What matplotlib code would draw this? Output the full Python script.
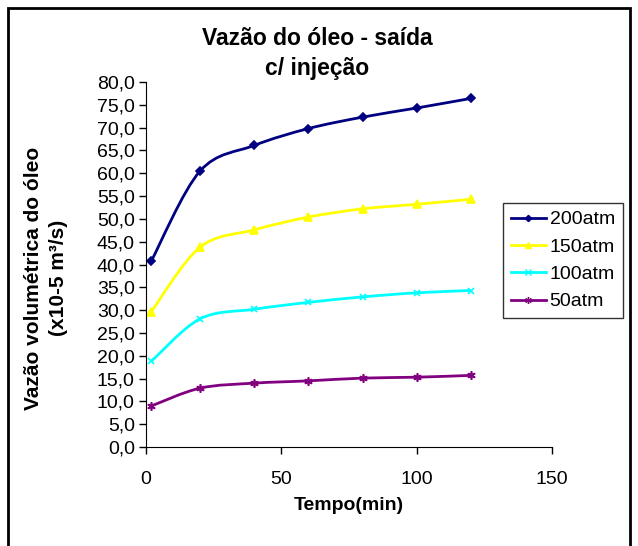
import matplotlib
matplotlib.use("Agg")
import matplotlib.pyplot as plt
from matplotlib.path import Path
from matplotlib.patches import PathPatch, Rectangle
from matplotlib.lines import Line2D
from matplotlib.ticker import FuncFormatter, MultipleLocator

plt.rcParams['font.family'] = ['Liberation Sans', 'DejaVu Sans']

tempo = [2, 20, 40, 60, 80, 100, 120]
p200 = [40.8, 60.5, 66.1, 69.8, 72.3, 74.3, 76.4]
p150 = [29.7, 43.8, 47.6, 50.4, 52.2, 53.2, 54.3]
p100 = [18.8, 28.1, 30.2, 31.7, 32.9, 33.8, 34.3]
p50 = [9.0, 12.9, 14.0, 14.5, 15.1, 15.3, 15.7]

series = [("200atm", p200, "#000080", "D", 4),
          ("150atm", p150, "#ffff00", "^", 6),
          ("100atm", p100, "#00ffff", "x", 5),
          ("50atm", p50, "#800080", (6, 2, 0), 6)]


def smooth_path(xs, ys):
    # Excel style smoothed line: Catmull-Rom as cubic bezier
    verts = [(xs[0], ys[0])]
    codes = [Path.MOVETO]
    n = len(xs)
    for i in range(n - 1):
        x0, y0 = (xs[i - 1], ys[i - 1]) if i > 0 else (xs[i], ys[i])
        x1, y1 = xs[i], ys[i]
        x2, y2 = xs[i + 1], ys[i + 1]
        x3, y3 = (xs[i + 2], ys[i + 2]) if i + 2 < n else (x2, y2)
        c1 = (x1 + (x2 - x0) / 6.0, y1 + (y2 - y0) / 6.0)
        c2 = (x2 - (x3 - x1) / 6.0, y2 - (y3 - y1) / 6.0)
        verts += [c1, c2, (x2, y2)]
        codes += [Path.CURVE4] * 3
    return Path(verts, codes)


fig = plt.figure(figsize=(6.38, 5.46), dpi=100)
fig.patches.append(Rectangle((8 / 638, -0.05), 622 / 638, 1 - 8 / 546 + 0.05,
                             transform=fig.transFigure, fill=False,
                             edgecolor="black", linewidth=2))
ax = fig.add_axes([0.2288, 0.1813, 0.6364, 0.6685])

for name, vals, col, mk, ms in series:
    ax.add_patch(PathPatch(smooth_path(tempo, vals), fill=False,
                           edgecolor=col, linewidth=2))
    ax.plot(tempo, vals, linestyle="none", color=col, marker=mk,
            markersize=ms, markeredgewidth=1.2)

ax.set_xlim(0, 150)
ax.set_ylim(0, 80)
ax.xaxis.set_major_locator(MultipleLocator(50))
ax.yaxis.set_major_locator(MultipleLocator(5))
ax.yaxis.set_major_formatter(FuncFormatter(lambda v, p: ("%.1f" % v).replace(".", ",")))
ax.spines["top"].set_visible(False)
ax.spines["right"].set_visible(False)
ax.tick_params(direction="out", length=5, labelsize=14, width=1)
ax.tick_params(axis="y", pad=3)
ax.tick_params(axis="x", pad=12)

ax.set_xlabel("Tempo(min)", fontsize=14, fontweight="bold", labelpad=7)
fig.text(0.052, 0.491, "Vazão volumétrica do óleo", rotation=90,
         fontsize=15, fontweight="bold", ha="center", va="center")
fig.text(0.092, 0.491, "(x10-5 m³/s)", rotation=90,
         fontsize=15, fontweight="bold", ha="center", va="center")
fig.text(0.497, 0.929, "Vazão do óleo - saída", fontsize=16.5,
         fontweight="bold", ha="center", va="center")
fig.text(0.497, 0.874, "c/ injeção", fontsize=16.5,
         fontweight="bold", ha="center", va="center")

handles = [Line2D([], [], color=c, marker=m, markersize=ms * 0.8, linewidth=2)
           for _, _, c, m, ms in series]
leg = fig.legend(handles, [s[0] for s in series], loc="upper left",
                 bbox_to_anchor=(503 / 638, 1 - 203 / 546), fontsize=14,
                 frameon=True, fancybox=False, edgecolor="black",
                 handlelength=1.8, handletextpad=0.2, borderpad=0.4,
                 labelspacing=0.5, borderaxespad=0)
leg.get_frame().set_linewidth(1)

fig.savefig("out.png", dpi=100)
